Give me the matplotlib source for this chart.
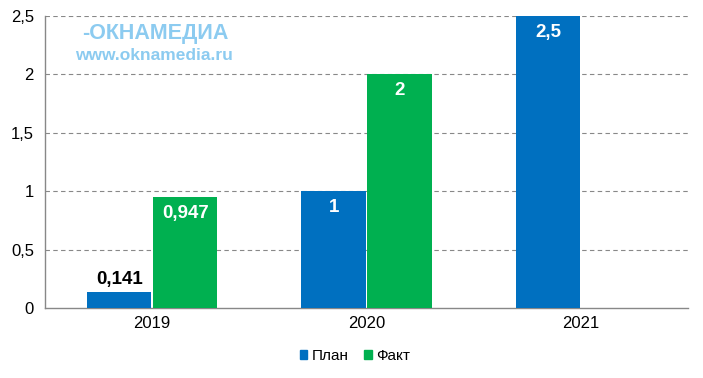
import numpy as np
import matplotlib.pyplot as plt

years = ['2019', '2020', '2021']
plan = [0.141, 1, 2.5]
fact = [0.947, 2, None]
plan_labels = ['0,141', '1', '2,5']
fact_labels = ['0,947', '2', '']
y_ticks = [0, 0.5, 1, 1.5, 2, 2.5]
y_tick_labels = ['0', '0,5', '1', '1,5', '2', '2,5']

blue = '#0070C0'
green = '#00B050'

plt.rcParams['font.family'] = ['Liberation Sans', 'DejaVu Sans']

fig = plt.figure(figsize=(7.03, 3.78), dpi=100)
ax = fig.add_axes([0.064, 0.185, 0.915, 0.773])

x = np.arange(len(years))
w = 0.3
off = 0.154

for i in range(len(years)):
    if plan[i] is not None:
        ax.bar(x[i] - off, plan[i], w, color=blue, zorder=3)
        if plan[i] < 0.3:
            ax.text(x[i] - off, plan[i] + 0.03, plan_labels[i], ha='center', va='bottom',
                    fontsize=13.5, fontweight='bold', color='black', zorder=4)
        else:
            ax.text(x[i] - off, plan[i] - 0.14, plan_labels[i], ha='center', va='center',
                    fontsize=13.5, fontweight='bold', color='white', zorder=4)
    if fact[i] is not None:
        ax.bar(x[i] + off, fact[i], w, color=green, zorder=3)
        ax.text(x[i] + off, fact[i] - 0.14, fact_labels[i], ha='center', va='center',
                fontsize=13.5, fontweight='bold', color='white', zorder=4)

ax.set_xlim(-0.5, 2.5)
ax.set_ylim(0, 2.5)
ax.set_xticks(x)
ax.set_xticklabels(years, fontsize=12)
ax.set_yticks(y_ticks)
ax.set_yticklabels(y_tick_labels, fontsize=12)
ax.tick_params(length=0, pad=8)
ax.tick_params(axis='x', pad=6)

for t in y_ticks[1:]:
    ax.axhline(t, color='#888888', linestyle=(0, (4, 3)), linewidth=0.8, zorder=1)

for s in ['top', 'right']:
    ax.spines[s].set_visible(False)
for s in ['left', 'bottom']:
    ax.spines[s].set_color('#888888')
    ax.spines[s].set_linewidth(1)

# watermark
ax.text(0.058, 0.975, '-ОКНАМЕДИА', transform=ax.transAxes, fontsize=15.5, fontweight='bold',
        color='#8CCBF0', ha='left', va='top', zorder=2)
ax.text(0.047, 0.89, 'www.oknamedia.ru', transform=ax.transAxes, fontsize=12.5, fontweight='bold',
        color='#8CCBF0', ha='left', va='top', zorder=2)

handles = [plt.Rectangle((0, 0), 1, 1, color=blue), plt.Rectangle((0, 0), 1, 1, color=green)]
fig.legend(handles, ['План', 'Факт'], loc='center', bbox_to_anchor=(0.505, 0.058), ncol=2,
           frameon=False, fontsize=11, handlelength=0.5, handleheight=0.5,
           handletextpad=0.3, columnspacing=1.0)

fig.savefig('out.png', dpi=100)
